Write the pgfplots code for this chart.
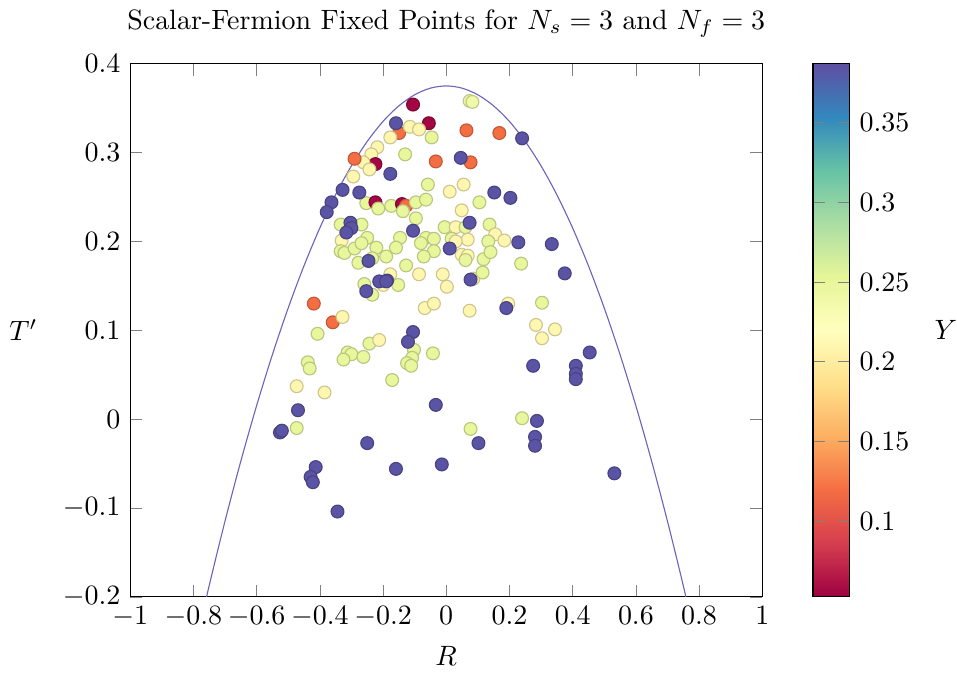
\documentclass[border=0pt]{standalone}
\usepackage{pgfplots}
\usepackage{pgfplotstable}
\pgfplotsset{compat=1.18}
\pgfplotstableread{
x y c
-0.105 0.354 0.055
-0.055 0.333 0.055
0.074 0.358 0.24
0.083 0.357 0.24
-0.149 0.322 0.12
-0.115 0.329 0.21
-0.086 0.326 0.21
-0.177 0.317 0.21
-0.046 0.317 0.25
0.064 0.325 0.12
0.168 0.322 0.12
-0.218 0.306 0.21
-0.237 0.298 0.21
-0.224 0.287 0.055
-0.262 0.289 0.21
-0.243 0.281 0.21
-0.290 0.293 0.12
-0.294 0.273 0.21
-0.130 0.298 0.25
-0.033 0.290 0.12
0.077 0.289 0.12
-0.253 0.243 0.25
-0.224 0.244 0.055
-0.215 0.237 0.25
-0.058 0.264 0.25
0.055 0.264 0.21
0.011 0.256 0.21
0.105 0.244 0.25
-0.174 0.240 0.25
-0.140 0.242 0.055
-0.127 0.240 0.12
-0.137 0.234 0.25
-0.096 0.244 0.25
-0.064 0.247 0.25
0.049 0.235 0.21
-0.096 0.226 0.25
0.137 0.219 0.25
-0.005 0.216 0.25
0.030 0.216 0.21
0.061 0.216 0.25
0.155 0.208 0.21
-0.334 0.219 0.25
-0.268 0.219 0.25
-0.250 0.204 0.25
-0.331 0.201 0.21
-0.146 0.204 0.25
-0.064 0.204 0.25
-0.039 0.203 0.25
0.017 0.203 0.25
0.068 0.202 0.21
0.133 0.200 0.25
0.184 0.201 0.21
-0.334 0.189 0.25
-0.322 0.187 0.25
-0.290 0.192 0.25
-0.268 0.198 0.25
-0.221 0.193 0.25
-0.278 0.176 0.25
-0.234 0.181 0.25
-0.190 0.183 0.25
-0.159 0.193 0.25
-0.127 0.173 0.25
-0.080 0.198 0.25
-0.039 0.189 0.25
-0.071 0.183 0.25
0.030 0.200 0.21
0.049 0.185 0.21
0.068 0.184 0.21
0.061 0.179 0.25
0.118 0.180 0.25
0.140 0.188 0.25
0.237 0.175 0.25
-0.177 0.163 0.21
-0.152 0.151 0.25
-0.086 0.163 0.21
-0.011 0.163 0.21
0.002 0.149 0.21
0.086 0.158 0.21
0.115 0.165 0.25
-0.259 0.152 0.25
-0.234 0.140 0.25
-0.199 0.151 0.21
-0.419 0.130 0.12
-0.359 0.109 0.12
-0.328 0.115 0.21
-0.407 0.096 0.25
-0.243 0.085 0.25
-0.212 0.089 0.21
-0.312 0.075 0.25
-0.300 0.073 0.25
-0.325 0.067 0.25
-0.262 0.070 0.25
-0.438 0.064 0.25
-0.432 0.057 0.25
-0.068 0.125 0.21
-0.039 0.130 0.21
0.074 0.122 0.21
0.196 0.130 0.21
0.303 0.131 0.25
0.284 0.106 0.21
0.344 0.101 0.21
0.303 0.091 0.21
-0.102 0.078 0.25
-0.108 0.069 0.25
-0.124 0.063 0.25
-0.111 0.060 0.25
-0.042 0.074 0.25
-0.171 0.044 0.25
-0.473 0.037 0.21
-0.385 0.030 0.21
-0.473 -0.010 0.25
0.077 -0.011 0.25
0.240 0.001 0.25
-0.159 0.333 0.385
0.240 0.316 0.385
0.046 0.294 0.385
-0.177 0.276 0.385
-0.328 0.258 0.385
-0.275 0.255 0.385
-0.363 0.244 0.385
-0.378 0.233 0.385
0.152 0.255 0.385
0.203 0.249 0.385
0.074 0.221 0.385
-0.105 0.212 0.385
-0.303 0.221 0.385
-0.300 0.215 0.385
-0.316 0.210 0.385
0.228 0.199 0.385
0.334 0.197 0.385
-0.246 0.178 0.385
0.011 0.192 0.385
0.375 0.164 0.385
-0.187 0.156 0.385
0.077 0.157 0.385
-0.253 0.144 0.385
-0.212 0.155 0.385
-0.190 0.155 0.385
0.190 0.125 0.385
-0.105 0.098 0.385
-0.121 0.087 0.385
0.454 0.075 0.385
0.275 0.060 0.385
0.410 0.060 0.385
0.410 0.051 0.385
0.410 0.045 0.385
-0.469 0.010 0.385
-0.526 -0.015 0.385
-0.520 -0.013 0.385
-0.250 -0.027 0.385
-0.413 -0.054 0.385
-0.429 -0.065 0.385
-0.422 -0.071 0.385
-0.344 -0.104 0.385
-0.033 0.016 0.385
0.102 -0.027 0.385
-0.159 -0.056 0.385
-0.014 -0.051 0.385
0.287 -0.002 0.385
0.281 -0.020 0.385
0.281 -0.030 0.385
0.532 -0.061 0.385
}\pts
\definecolor{curvecol}{RGB}{110,100,185}
\begin{document}
\begin{tikzpicture}
\begin{axis}[
  scale only axis,
  width=226pt, height=190.6pt,
  xmin=-1, xmax=1, ymin=-0.2, ymax=0.4,
  xtick={-1,-0.8,-0.6,-0.4,-0.2,0,0.2,0.4,0.6,0.8,1},
  ytick={-0.2,-0.1,0,0.1,0.2,0.3,0.4},
  title={Scalar-Fermion Fixed Points for $N_s=3$ and $N_f=3$},
  xlabel={$R$}, ylabel={$T'$},
  ylabel style={rotate=-90, at={(ticklabel cs:0.5,2.2pt)}},
  colormap={spectral}{rgb255=(158,1,66) rgb255=(213,62,79) rgb255=(244,109,67) rgb255=(253,174,97) rgb255=(254,224,139) rgb255=(255,255,191) rgb255=(230,245,152) rgb255=(171,221,164) rgb255=(102,194,165) rgb255=(50,136,189) rgb255=(94,79,162)},
  point meta min=0.0525, point meta max=0.387,
  colorbar,
  colorbar/width=13.1pt,
  colorbar style={
    scale only axis,
    height=190.6pt,
    at={(parent axis.north east)}, anchor=north west, xshift=9.6pt,
    ytick={0.1,0.15,0.2,0.25,0.3,0.35},
    ylabel={$Y$},
    ylabel style={rotate=-90, inner sep=0pt, at={(ticklabel cs:0.5,5.5pt)}},
  },
]
\addplot[curvecol, smooth, no marks, forget plot] coordinates {
(-0.80,-0.265) (-0.75,-0.1875) (-0.70,-0.115) (-0.65,-0.0475) (-0.60,0.015)
(-0.55,0.0725) (-0.50,0.125) (-0.45,0.1725) (-0.40,0.215) (-0.35,0.2525)
(-0.30,0.285) (-0.25,0.3125) (-0.20,0.335) (-0.15,0.3525) (-0.10,0.365)
(-0.05,0.3725) (0,0.375) (0.05,0.3725) (0.10,0.365) (0.15,0.3525)
(0.20,0.335) (0.25,0.3125) (0.30,0.285) (0.35,0.2525) (0.40,0.215)
(0.45,0.1725) (0.50,0.125) (0.55,0.0725) (0.60,0.015) (0.65,-0.0475)
(0.70,-0.115) (0.75,-0.1875) (0.80,-0.265)};
\addplot[scatter, only marks, mark=*, mark size=2.3pt,
  scatter/use mapped color={draw=mapped color!80!black, fill=mapped color},
  point meta=\thisrow{c}] table[x=x,y=y] {\pts};
\end{axis}
\end{tikzpicture}
\end{document}
